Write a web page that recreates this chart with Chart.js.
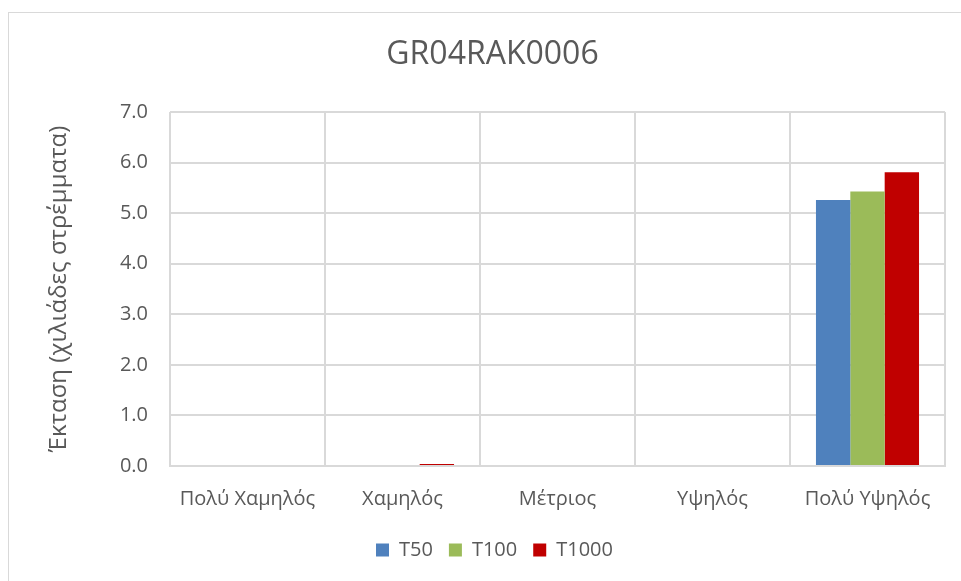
<!DOCTYPE html>
<html><head><meta charset="utf-8">
<script src="https://cdn.jsdelivr.net/npm/chart.js@4"></script>
<style>
html,body{margin:0;padding:0;background:#fff;}
#wrap{position:relative;width:961px;height:581px;overflow:hidden;}
#frame{position:absolute;left:8px;top:12px;width:970px;height:600px;border-left:1px solid #d9d9d9;border-top:1px solid #d9d9d9;}
canvas{position:absolute;left:0;top:0;}
</style></head>
<body><div id="wrap"><div id="frame"></div><canvas id="c" width="961" height="581"></canvas></div>
<script>
const categories = ["Πολύ Χαμηλός", "Χαμηλός", "Μέτριος", "Υψηλός", "Πολύ Υψηλός"];
const seriesNames = ["T50", "T100", "T1000"];
const t50 = [0, 0, 0, 0, 5.26];
const t100 = [0, 0, 0, 0, 5.43];
const t1000 = [0, 0.04, 0, 0, 5.81];
const chartTitle = "GR04RAK0006";
const yTitle = "Έκταση (χιλιάδες στρέμματα)";
const colors = ["#4F81BD", "#9BBB59", "#C00000"];

const FONT = "'Open Sans', 'Liberation Sans', sans-serif";
const TXT = "#595959";
const GRID = "#d9d9d9";

const shiftBoxes = {
  id: 'shiftBoxes',
  afterLayout(chart) {
    if (chart.titleBlock) { chart.titleBlock.left += 15; chart.titleBlock.right += 15; }
    if (chart.legend) { chart.legend.left += 17; chart.legend.right += 17; }
  }
};

new Chart(document.getElementById('c'), {
  type: 'bar',
  data: {
    labels: categories,
    datasets: [t50, t100, t1000].map((d, i) => ({
      label: seriesNames[i], data: d, backgroundColor: colors[i], borderWidth: 0,
      categoryPercentage: 0.665, barPercentage: 1.0
    }))
  },
  options: {
    responsive: false, animation: false, devicePixelRatio: 1,
    layout: { padding: { left: 10, right: 16, top: 2, bottom: 11 } },
    plugins: {
      title: { display: true, text: chartTitle, color: TXT,
        font: { family: FONT, size: 32, weight: 'normal' }, padding: { top: 34, bottom: 37.6 } },
      legend: { position: 'bottom',
        labels: { color: TXT, font: { family: FONT, size: 20 }, boxWidth: 13, boxHeight: 13, padding: 16 } },
      tooltip: { enabled: false }
    },
    scales: {
      x: {
        grid: { color: GRID, lineWidth: 2, drawTicks: false, offset: true },
        border: { color: GRID, width: 2 },
        ticks: { color: TXT, font: { family: FONT, size: 20 }, padding: 21, maxRotation: 0 },
        afterFit: s => { s.height = 58; }
      },
      y: {
        min: 0, max: 7,
        grid: { color: GRID, lineWidth: 2, drawTicks: false },
        border: { display: false },
        ticks: { stepSize: 1, color: TXT, font: { family: FONT, size: 20 }, padding: 22,
          callback: v => Number(v).toFixed(1) },
        title: { display: true, text: yTitle, color: TXT, font: { family: FONT, size: 24 },
          padding: { top: 35, bottom: 0 } },
        afterFit: s => { s.width = 160; }
      }
    }
  },
  plugins: [shiftBoxes]
});
</script></body></html>
